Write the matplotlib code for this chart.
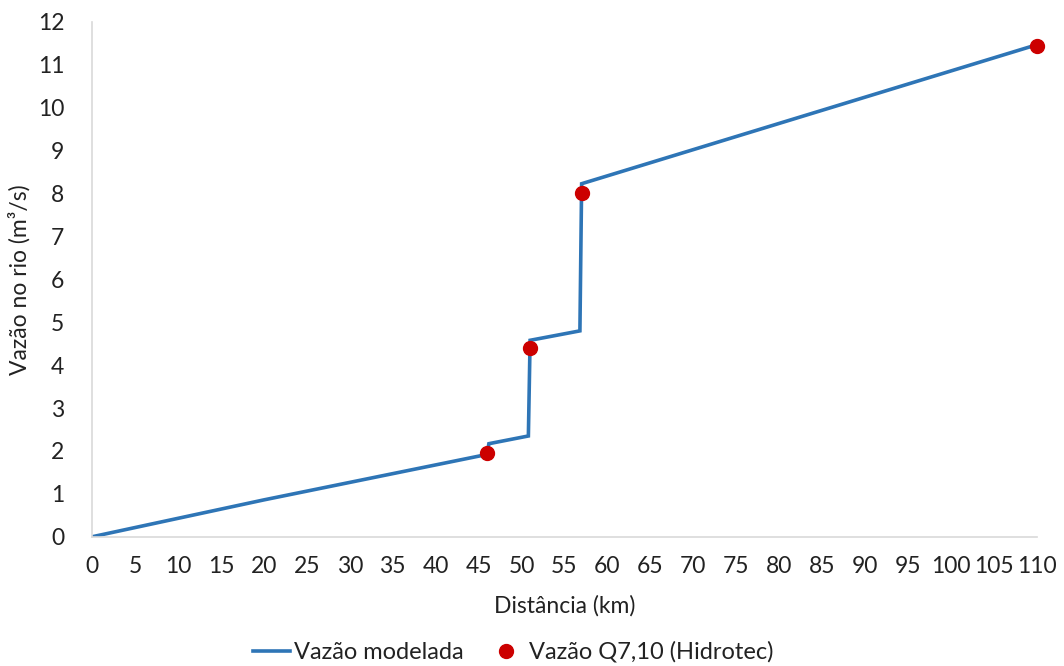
import matplotlib.pyplot as plt

plt.rcParams['font.family'] = ['Lato', 'DejaVu Sans']

# modelled flow along the river (km, m3/s)
dist_model = [0, 20, 46.0, 46.2, 50.8, 51.0, 56.8, 57.0, 110]
flow_model = [0, 0.86, 1.92, 2.17, 2.35, 4.58, 4.80, 8.23, 11.47]

# Q7,10 reference points
dist_q710 = [46.0, 51.0, 57.0, 110]
flow_q710 = [1.96, 4.40, 8.02, 11.45]

xticks = list(range(0, 111, 5))
yticks = list(range(0, 13))

fs = 16.5
txt = '#222222'

fig = plt.figure(figsize=(10.64, 6.66), dpi=100)
ax = fig.add_axes([0.0865, 0.194, 0.888, 0.773])

ax.plot(dist_model, flow_model, color='#2E75B6', linewidth=2.6,
        label='Vazão modelada', solid_joinstyle='miter')
ax.plot(dist_q710, flow_q710, 'o', color='#CC0000', markersize=10,
        linestyle='none', label='Vazão Q7,10 (Hidrotec)', clip_on=False, zorder=3)

ax.set_xlim(0, 110)
ax.set_ylim(0, 12)
ax.set_xticks(xticks)
ax.set_yticks(yticks)
ax.tick_params(length=0, labelsize=fs, colors=txt)
ax.tick_params(axis='x', pad=14)
ax.tick_params(axis='y', pad=20)

for s in ['top', 'right']:
    ax.spines[s].set_visible(False)
for s in ['left', 'bottom']:
    ax.spines[s].set_color('#D9D9D9')
    ax.spines[s].set_linewidth(1.2)

ax.set_xlabel('Distância (km)', fontsize=fs, color=txt, va='center')
ax.set_ylabel('Vazão no rio (m³/s)', fontsize=fs, color=txt, va='center')
ax.xaxis.set_label_coords(0.5, -0.134)
ax.yaxis.set_label_coords(-0.077, 0.5)

fig.legend(loc='center', bbox_to_anchor=(0.482, 0.021), ncol=2,
           frameon=False, fontsize=17, handlelength=1.6, handletextpad=0.15,
           columnspacing=1.0, labelcolor=txt)

fig.savefig('out.png', dpi=100)
